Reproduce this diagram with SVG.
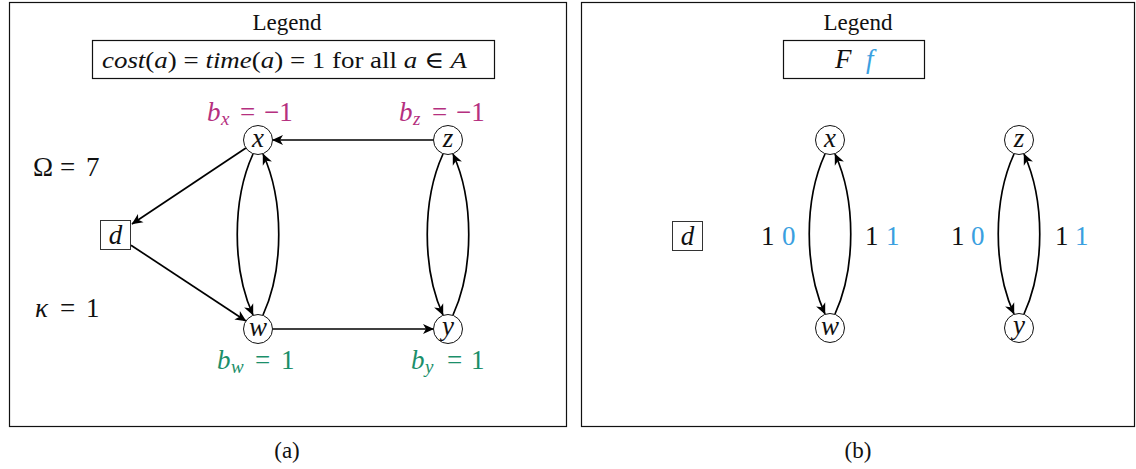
<svg xmlns="http://www.w3.org/2000/svg" width="1136" height="469" viewBox="0 0 1136 469" font-family="'Liberation Serif','DejaVu Serif',serif">
<style>
text{font-family:"Liberation Serif","DejaVu Serif",serif;fill:#111;font-size:27px;}
.t22{font-size:23px;}
.it{font-style:italic;}
.sub{font-size:19px;font-style:italic;}
.mag,.mag tspan{fill:#b5307f;}
.grn,.grn tspan{fill:#1b8f6a;}
.blu{fill:#3a9fe0;}
.frame{fill:none;stroke:#111;stroke-width:1.2;}
.node circle{fill:#fff;stroke:#111;stroke-width:1;}
.node rect{fill:#fff;stroke:#333;stroke-width:1;}
.nl{font-size:27px;font-style:italic;text-anchor:middle;}
.edge{fill:none;stroke:#000;stroke-width:1.7;marker-end:url(#arr);}
.c{text-anchor:middle;}
</style>
<defs>
<marker id="arr" viewBox="-12 -6 13 12" refX="0" refY="0" markerWidth="13" markerHeight="12" orient="auto" markerUnits="userSpaceOnUse">
<path d="M0.5,0 L-10.5,-5 L-7.5,0 L-10.5,5 Z" fill="#000"/>
</marker>
</defs>
<rect width="1136" height="469" fill="#fff"/>

<!-- Panel frames -->
<rect class="frame" x="9.5" y="2.5" width="557" height="424"/>
<rect class="frame" x="581.5" y="2.5" width="553" height="424"/>

<!-- Panel (a) legend -->
<g id="legend-a">
<text class="t22 c" x="287" y="30">Legend</text>
<rect class="frame" x="92.5" y="40.5" width="402" height="38"/>
<text class="t22" x="102" y="68" textLength="365" lengthAdjust="spacingAndGlyphs"><tspan class="it">cost</tspan>(<tspan class="it">a</tspan>) = <tspan class="it">time</tspan>(<tspan class="it">a</tspan>) = 1 for all <tspan class="it">a</tspan> ∈ <tspan class="it">A</tspan></text>
</g>

<g id="params-a">
<text y="176"><tspan x="33">Ω</tspan><tspan x="60">=</tspan><tspan x="86">7</tspan></text>
<text y="317"><tspan x="35" class="it">κ</tspan><tspan x="60">=</tspan><tspan x="86">1</tspan></text>
</g>

<!-- Panel (a) connectors -->
<g id="edges-a">
<path class="edge" d="M433.5,140 L272.5,140"/>
<path class="edge" d="M245.9,148 L132,224"/>
<path class="edge" d="M131,245.2 L245.9,321"/>
<path class="edge" d="M272.5,329 L433.5,329"/>
<path class="edge" d="M253,154 C232,200 232,269 253,315"/>
<path class="edge" d="M263,315 C284,269 284,200 263,154"/>
<path class="edge" d="M443,154 C422,200 422,269 443,315"/>
<path class="edge" d="M453,315 C474,269 474,200 453,154"/>
</g>

<!-- Panel (a) nodes -->
<g id="node-a-x" class="node"><circle cx="258" cy="140" r="14.5"/><text class="nl" x="258" y="147">x</text></g>
<g id="node-a-z" class="node"><circle cx="448" cy="140" r="14.5"/><text class="nl" x="448" y="147">z</text></g>
<g id="node-a-w" class="node"><circle cx="258" cy="329" r="14.5"/><text class="nl" x="258" y="336">w</text></g>
<g id="node-a-y" class="node"><circle cx="448" cy="329" r="14.5"/><text class="nl" x="448" y="335">y</text></g>
<g id="node-a-d" class="node"><rect x="100.5" y="220.5" width="30" height="29"/><text class="nl" x="115.5" y="244">d</text></g>

<g id="labels-a">
<text class="mag" y="121"><tspan x="207" class="it">b</tspan><tspan x="221" y="125" class="sub">x</tspan><tspan x="240" y="121">=</tspan><tspan x="264">−1</tspan></text>
<text class="mag" y="121"><tspan x="399" class="it">b</tspan><tspan x="413" y="125" class="sub">z</tspan><tspan x="432" y="121">=</tspan><tspan x="456">−1</tspan></text>
<text class="grn" y="369"><tspan x="217" class="it">b</tspan><tspan x="231" y="373" class="sub">w</tspan><tspan x="255" y="369">=</tspan><tspan x="281">1</tspan></text>
<text class="grn" y="369"><tspan x="411" class="it">b</tspan><tspan x="425" y="373" class="sub">y</tspan><tspan x="447" y="369">=</tspan><tspan x="471">1</tspan></text>
</g>

<!-- Panel (b) legend -->
<g id="legend-b">
<text class="t22 c" x="858" y="30">Legend</text>
<rect class="frame" x="783.5" y="40.5" width="141" height="38"/>
<text y="68"><tspan x="835" class="it">F</tspan><tspan x="866" class="it blu">f</tspan></text>
</g>

<!-- Panel (b) connectors -->
<g id="edges-b">
<path class="edge" d="M825,154 C804,200 804,268 825,314"/>
<path class="edge" d="M835,314 C856,268 856,200 835,154"/>
<path class="edge" d="M1014,154 C993,200 993,268 1014,314"/>
<path class="edge" d="M1024,314 C1045,268 1045,200 1024,154"/>
</g>

<!-- Panel (b) nodes -->
<g id="node-b-x" class="node"><circle cx="830" cy="140" r="14.5"/><text class="nl" x="830" y="147">x</text></g>
<g id="node-b-w" class="node"><circle cx="830" cy="328" r="14.5"/><text class="nl" x="830" y="335">w</text></g>
<g id="node-b-z" class="node"><circle cx="1019" cy="140" r="14.5"/><text class="nl" x="1019" y="147">z</text></g>
<g id="node-b-y" class="node"><circle cx="1019" cy="328" r="14.5"/><text class="nl" x="1019" y="334">y</text></g>
<g id="node-b-d" class="node"><rect x="672.5" y="221.5" width="30" height="29"/><text class="nl" x="687.5" y="245">d</text></g>

<g id="labels-b">
<text y="245"><tspan x="761">1</tspan><tspan x="782" class="blu">0</tspan></text>
<text y="245"><tspan x="865">1</tspan><tspan x="886" class="blu">1</tspan></text>
<text y="245"><tspan x="951">1</tspan><tspan x="971" class="blu">0</tspan></text>
<text y="245"><tspan x="1055">1</tspan><tspan x="1075" class="blu">1</tspan></text>
</g>

<g id="captions">
<text class="c" x="287" y="458" style="font-size:23px">(a)</text>
<text class="c" x="858" y="458" style="font-size:23px">(b)</text>
</g>
</svg>
